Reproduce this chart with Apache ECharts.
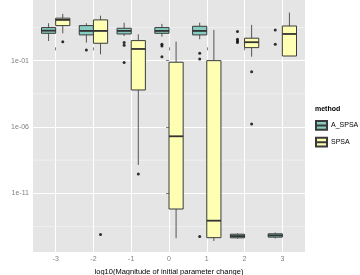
<!DOCTYPE html>
<html>
<head>
<meta charset="utf-8">
<script src="https://cdn.jsdelivr.net/npm/echarts@6/dist/echarts.min.js"></script>
<style>
  html, body { margin: 0; padding: 0; background: #fff; }
  #chart { width: 360px; height: 275px; }
</style>
</head>
<body>
<div id="chart"></div>
<script>
// x categories: log10(magnitude of initial parameter change)
var cats = [-3, -2, -1, 0, 1, 2, 3];
// all values below are log10(Error)
// box rows: [lower whisker, q1, median, q3, upper whisker]
var aBox = [
    [0.48, 1.06, 1.26, 1.49, 1.82],
    [0.36, 0.94, 1.24, 1.64, 1.82],
    [0.86, 1.01, 1.24, 1.44, 1.86],
    [0.81, 1.06, 1.24, 1.49, 1.77],
    [0.61, 0.94, 1.24, 1.59, 1.86],
    [-14.42, -14.35, -14.22, -14.08, -14.02],
    [-14.40, -14.30, -14.17, -14.05, -13.95]
];
var sBox = [
    [1.06, 1.64, 2.07, 2.20, 2.52],
    [-0.52, 0.31, 1.24, 2.07, 2.39],
    [-8.86, -3.21, -0.12, 0.51, 0.99],
    [-14.38, -12.18, -6.70, -1.12, 0.43],
    [-14.59, -14.34, -13.06, -1.00, 1.31],
    [-0.70, -0.02, 0.39, 0.69, 1.69],
    [-0.65, -0.65, 1.01, 1.61, 2.62]
];
var aOut = [[], [-0.19], [0.37, 0.16, -1.14], [0.24, 0.11, -0.70], [-0.44, -0.87, -14.26], [1.19, 0.61, 0.48, 0.36], [1.31, 0.24]];
var sOut = [[0.43], [-14.1], [-9.54], [], [], [-1.83, -5.77], []];
var majorBreaks = [-11, -6, -1];
var minorBreaks = [-13.5, -8.5, -3.5, 1.5];

var chart = echarts.init(document.getElementById('chart'));

var half = 0.1875; // half of a dodged box width (0.75 / 4)

function boxRows(boxes, off) {
    return boxes.map(function (b, i) { return [cats[i] + off].concat(b); });
}
function outRows(outs, off) {
    var rows = [];
    outs.forEach(function (list, i) {
        list.forEach(function (v) { rows.push([cats[i] + off, v]); });
    });
    return rows;
}

function renderBox(params, api) {
    var c = api.value(0);
    var lo = api.coord([c, api.value(1)]);
    var q1 = api.coord([c, api.value(2)]);
    var md = api.coord([c, api.value(3)]);
    var q3 = api.coord([c, api.value(4)]);
    var hi = api.coord([c, api.value(5)]);
    var xl = api.coord([c - half, 0])[0];
    var xr = api.coord([c + half, 0])[0];
    var fill = api.visual('color');
    var stroke = '#3a3a3a';
    return {
        type: 'group',
        children: [
            { type: 'line', shape: { x1: hi[0], y1: hi[1], x2: q3[0], y2: q3[1] }, style: { stroke: '#555', lineWidth: 1 } },
            { type: 'line', shape: { x1: q1[0], y1: q1[1], x2: lo[0], y2: lo[1] }, style: { stroke: '#555', lineWidth: 1 } },
            { type: 'rect', shape: { x: xl, y: q3[1], width: xr - xl, height: Math.max(q1[1] - q3[1], 1) },
              style: { fill: fill, stroke: stroke, lineWidth: 1 } },
            { type: 'line', shape: { x1: xl, y1: md[1], x2: xr, y2: md[1] }, style: { stroke: '#333', lineWidth: 1.8 } }
        ]
    };
}

function renderMinor(params, api) {
    var cs = params.coordSys;
    var y = api.coord([0, api.value(0)])[1];
    return { type: 'line', shape: { x1: cs.x, y1: y, x2: cs.x + cs.width, y2: y },
             style: { stroke: '#f2f2f2', lineWidth: 0.8 } };
}

function fmtY(v) {
    var e = Math.round(v);
    var s = Math.abs(e) < 10 ? '0' + Math.abs(e) : '' + Math.abs(e);
    return '1e' + (e < 0 ? '-' : '+') + s;
}

var keyIcon = 'path://M0,0L10,0L10,8L0,8Z M0,4L10,4';

var option = {
    animation: false,
    backgroundColor: '#fff',
    title: {
        text: 'method',
        left: 315,
        top: 106,
        padding: 0,
        textStyle: { fontSize: 7, fontWeight: 'bold', color: '#000', fontFamily: 'Liberation Sans' }
    },
    legend: {
        orient: 'vertical',
        left: 315,
        top: 120,
        padding: 0,
        itemWidth: 11,
        itemHeight: 9,
        itemGap: 6,
        selectedMode: false,
        textStyle: { fontSize: 7, color: '#000', fontFamily: 'Liberation Sans', padding: [0, 0, 0, -1] },
        data: [
            { name: 'A_SPSA', icon: keyIcon },
            { name: 'SPSA', icon: keyIcon }
        ]
    },
    grid: {
        left: 33, right: 55, top: 0, bottom: 23,
        containLabel: false,
        outerBoundsMode: 'none',
        show: true, backgroundColor: '#e5e5e5', borderWidth: 0
    },
    xAxis: {
        type: 'value',
        min: -3.6,
        max: 3.6,
        name: 'log10(Magnitude of initial parameter change)',
        nameLocation: 'middle',
        nameGap: 11,
        nameTextStyle: { fontSize: 7.5, color: '#000', fontFamily: 'Liberation Sans' },
        axisLine: { show: false },
        axisTick: { show: true, length: 3, lineStyle: { color: '#7f7f7f' }, customValues: cats },
        axisLabel: { fontSize: 7, color: '#7f7f7f', margin: 4, fontFamily: 'Liberation Sans', customValues: cats },
        splitLine: { show: true, lineStyle: { color: '#fff', width: 1 } }
    },
    yAxis: {
        type: 'value',
        min: -15.42,
        max: 3.57,
        name: 'Error',
        nameLocation: 'middle',
        nameGap: 24,
        nameRotate: 90,
        nameTextStyle: { fontSize: 7.5, color: '#000', fontFamily: 'Liberation Sans' },
        axisLine: { show: false },
        axisTick: { show: true, length: 3, lineStyle: { color: '#7f7f7f' }, customValues: majorBreaks },
        axisLabel: { fontSize: 7, color: '#7f7f7f', margin: 4, fontFamily: 'Liberation Sans',
                     customValues: majorBreaks, formatter: fmtY },
        splitLine: { show: true, lineStyle: { color: '#fff', width: 1 } }
    },
    series: [
        {
            name: 'minor', type: 'custom', silent: true, z: 1,
            renderItem: renderMinor,
            encode: { y: 0 },
            data: minorBreaks.map(function (v) { return [v]; })
        },
        {
            name: 'A_SPSA', type: 'custom', z: 2,
            renderItem: renderBox,
            itemStyle: { color: '#86ccc0', borderColor: '#3a3a3a', borderWidth: 1 },
            encode: { x: 0, y: [1, 2, 3, 4, 5] },
            data: boxRows(aBox, -half)
        },
        {
            name: 'SPSA', type: 'custom', z: 2,
            renderItem: renderBox,
            itemStyle: { color: '#ffffb3', borderColor: '#3a3a3a', borderWidth: 1 },
            encode: { x: 0, y: [1, 2, 3, 4, 5] },
            data: boxRows(sBox, half)
        },
        {
            name: 'A_SPSA outliers', type: 'scatter', z: 3, silent: true,
            symbolSize: 3, itemStyle: { color: '#000' },
            data: outRows(aOut, -half)
        },
        {
            name: 'SPSA outliers', type: 'scatter', z: 3, silent: true,
            symbolSize: 3, itemStyle: { color: '#000' },
            data: outRows(sOut, half)
        }
    ]
};
chart.setOption(option);
window.onresize = function () {
    chart.resize();
};
</script>
</body>
</html>
